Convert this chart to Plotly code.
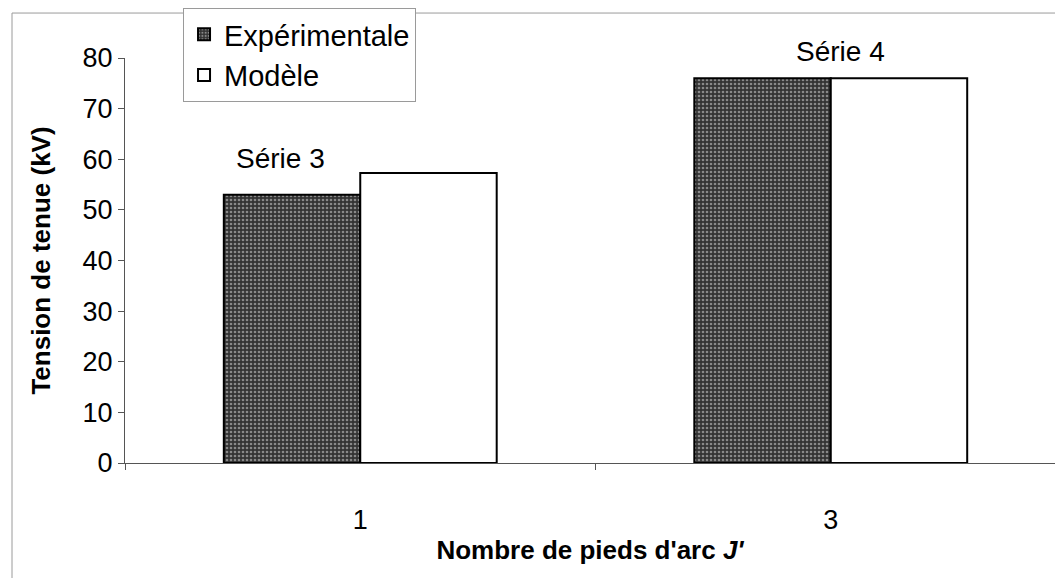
import plotly.graph_objects as go

# données
categories = ["1", "3"]
experimentale = [53.0, 76.0]
modele = [57.3, 76.0]
series_labels = ["Série 3", "Série 4"]

FONT = "Liberation Sans, Arial, sans-serif"

fig = go.Figure()
fig.add_trace(go.Bar(
    x=categories, y=experimentale, name="Expérimentale",
    marker=dict(color="#333333", line=dict(color="black", width=2),
                pattern=dict(shape=".", fgcolor="#e0e0e0", size=4, solidity=0.35)),
))
fig.add_trace(go.Bar(
    x=categories, y=modele, name="Modèle",
    marker=dict(color="white", line=dict(color="black", width=2)),
))

# étiquettes "Série n" au-dessus des groupes (ancrées sur la barre Modèle)
for i, (lab, top) in enumerate(zip(series_labels, modele)):
    dx, dy = [(-80, 14), (10, 27)][i]
    fig.add_annotation(x=i, y=top, text=lab, showarrow=False, xshift=dx, yshift=dy,
                       yanchor="middle", font=dict(size=28, color="black", family=FONT))

# cadre gris autour de la figure
fig.add_shape(type="rect", xref="paper", yref="paper",
              x0=-0.1215, y0=-0.6, x1=1.2, y1=1.111,
              line=dict(color="#9a9a9a", width=1))

fig.update_layout(
    width=1047, height=570,
    margin=dict(l=117, r=0, t=46, b=115),
    paper_bgcolor="white", plot_bgcolor="white",
    barmode="group", bargap=0.42, bargroupgap=0,
    font=dict(family=FONT, color="black", size=27),
    legend=dict(x=0.0624, y=1.124, xanchor="left", yanchor="top",
                bordercolor="#9a9a9a", borderwidth=1, bgcolor="white",
                font=dict(size=29)),
)
fig.update_xaxes(
    type="category", range=[-0.5, 1.4766],
    showline=True, linecolor="#555", linewidth=1,
    ticks="outside", tickson="boundaries", ticklen=6, tickcolor="#555",
    ticklabelstandoff=33,
    title=dict(text="<b>Nombre de pieds d'arc <i>J'</i></b>", font=dict(size=26), standoff=6),
    automargin=False,
)
fig.update_yaxes(
    range=[0, 80], dtick=10, showgrid=False, zeroline=False,
    showline=True, linecolor="#555", linewidth=1,
    ticks="outside", ticklen=6, tickcolor="#555",
    title=dict(text="<b>Tension de tenue (kV)</b>", font=dict(size=26), standoff=24),
    automargin=False,
)

fig.write_html("out.html")
